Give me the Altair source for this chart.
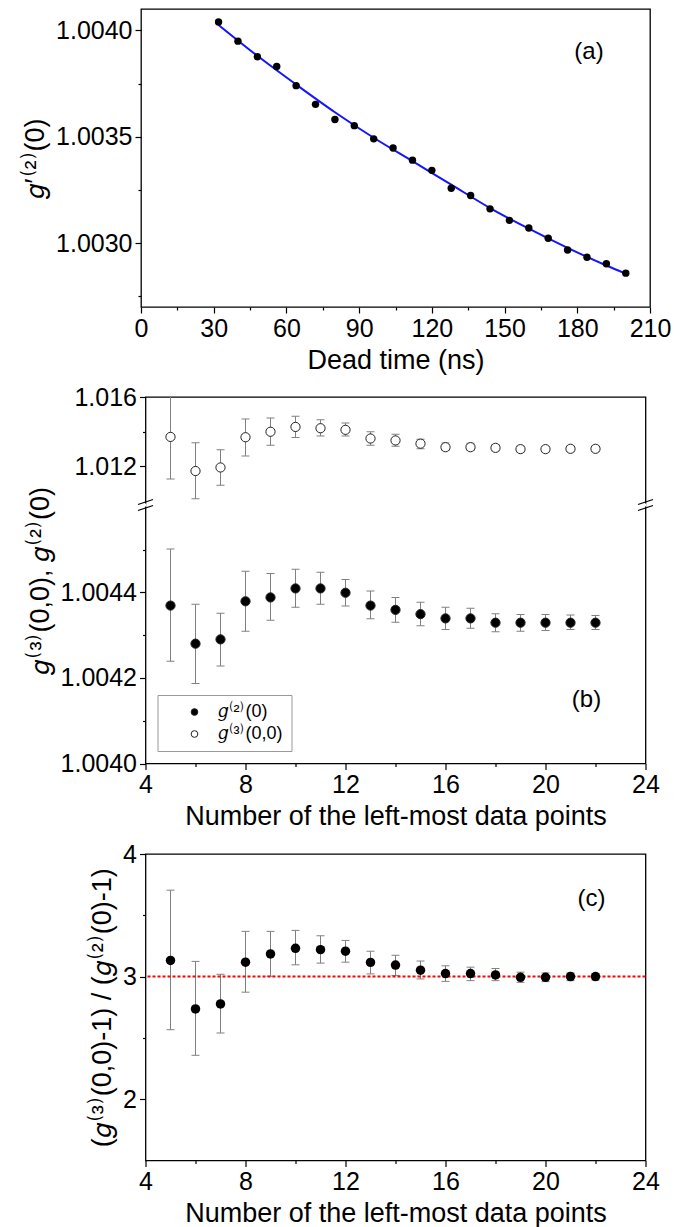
import altair as alt
import pandas as pd

FONT = "Liberation Sans"

# ---------------- panel (a) data ----------------
dead_time = [32, 40, 48, 56, 64, 72, 80, 88, 96, 104, 112, 120, 128, 136, 144,
             152, 160, 168, 176, 184, 192, 200]
g2_prime = [1.004039, 1.003949, 1.003876, 1.003830, 1.003740, 1.003652, 1.003581,
            1.003552, 1.003490, 1.003447, 1.003390, 1.003342, 1.003258, 1.003224,
            1.003161, 1.003107, 1.003071, 1.003023, 1.002968, 1.002934, 1.002903,
            1.002859]
fit_time = [32, 48, 64, 80, 96, 112, 128, 144, 160, 176, 192, 200]
fit_value = [1.004025, 1.003880, 1.003745, 1.003615, 1.003495, 1.003385, 1.003275,
             1.003165, 1.003068, 1.002978, 1.002895, 1.002857]

# ---------------- panel (b) / (c) data ----------------
n_points = [5, 6, 7, 8, 9, 10, 11, 12, 13, 14, 15, 16, 17, 18, 19, 20, 21, 22]
g2_val = [1.004369, 1.004280, 1.004290, 1.004379, 1.004388, 1.004409, 1.004409,
          1.004399, 1.004369, 1.004359, 1.004349, 1.004339, 1.004339, 1.004329,
          1.004329, 1.004329, 1.004329, 1.004329]
g2_lo = [1.004239, 1.004187, 1.004228, 1.004309, 1.004335, 1.004365, 1.004372,
         1.004368, 1.004338, 1.004330, 1.004322, 1.004313, 1.004316, 1.004308,
         1.004309, 1.004311, 1.004313, 1.004313]
g2_hi = [1.004501, 1.004372, 1.004351, 1.004449, 1.004444, 1.004454, 1.004447,
         1.004430, 1.004403, 1.004388, 1.004377, 1.004365, 1.004363, 1.004350,
         1.004348, 1.004348, 1.004347, 1.004346]
g3_val = [1.013693, 1.011721, 1.011926, 1.013674, 1.013991, 1.014270, 1.014195,
          1.014102, 1.013600, 1.013488, 1.013302, 1.013098, 1.013098, 1.013060,
          1.012986, 1.012986, 1.013005, 1.013005]
g3_lo = [1.011256, 1.010121, 1.010902, 1.012595, 1.013209, 1.013656, 1.013749,
         1.013749, 1.013209, 1.013153, 1.013005, 1.012912, 1.012912, 1.012874,
         1.012819, 1.012819, 1.012837, 1.012837]
g3_hi = [1.016130, 1.013358, 1.012949, 1.014735, 1.014791, 1.014884, 1.014679,
         1.014493, 1.013991, 1.013842, 1.013563, 1.013339, 1.013320, 1.013247,
         1.013172, 1.013154, 1.013172, 1.013172]
ratio_val = [3.132, 2.736, 2.777, 3.118, 3.185, 3.231, 3.220, 3.207, 3.116, 3.094,
             3.052, 3.025, 3.025, 3.014, 2.994, 2.994, 3.000, 3.000]
ratio_lo = [2.567, 2.358, 2.540, 2.873, 3.003, 3.096, 3.110, 3.118, 3.022, 3.008,
            2.981, 2.961, 2.967, 2.967, 2.953, 2.959, 2.967, 2.972]
ratio_hi = [3.705, 3.124, 3.019, 3.369, 3.369, 3.377, 3.333, 3.295, 3.207, 3.174,
            3.127, 3.088, 3.077, 3.066, 3.036, 3.030, 3.030, 3.025]

series_labels = ["𝑔⁽²⁾(0)", "𝑔⁽³⁾(0,0)"]
panel_labels = ["(a)", "(b)", "(c)"]
reference_ratio = [3]

# tick positions (major + minor)
ticks_a_x = [0, 15, 30, 45, 60, 75, 90, 105, 120, 135, 150, 165, 180, 195, 210]
ticks_a_y = [1.00275, 1.0030, 1.00325, 1.0035, 1.00375, 1.0040]
ticks_n = [4, 6, 8, 10, 12, 14, 16, 18, 20, 22, 24]
ticks_b_y = [1.0040, 1.0041, 1.0042, 1.0043, 1.0044, 1.0045, 1.012, 1.014, 1.016]
ticks_c_y = [2, 2.5, 3, 3.5, 4]

W_A, H_A = 509, 298
W_B, H_B = 500, 366.5
W_C, H_C = 500, 306.5
SPACING = 90

GREY = "#808080"


def minor_axis(title, values, major_test, label_fmt):
    return alt.Axis(
        title=title,
        values=values,
        labelExpr=f"({major_test}) ? {label_fmt} : ''",
        tickSize={"condition": {"test": f"!({major_test})", "value": 3}, "value": 6},
    )


# ---------------- panel (a) ----------------
x_a = dict(scale=alt.Scale(domain=[0, 210], nice=False, zero=False),
           axis=minor_axis("Dead time (ns)", ticks_a_x, "datum.value % 30 == 0", "datum.label"))
y_a = dict(scale=alt.Scale(domain=[1.0027, 1.0041], nice=False, zero=False),
           axis=minor_axis("𝑔′⁽²⁾(0)", ticks_a_y, "round(datum.value*20000) % 10 == 0",
                           "format(datum.value, '.4f')"))

df_a = pd.DataFrame({"t": dead_time, "g": g2_prime})
df_fit = pd.DataFrame({"t": fit_time, "g": fit_value})

fit_line = alt.Chart(df_fit).mark_line(color="#1414ff", strokeWidth=2, interpolate="monotone").encode(
    x=alt.X("t:Q", **x_a), y=alt.Y("g:Q", **y_a))
pts_a = alt.Chart(df_a).mark_circle(color="black", size=55, opacity=1).encode(
    x=alt.X("t:Q", **x_a), y=alt.Y("g:Q", **y_a))
lab_a = alt.Chart(pd.DataFrame({"lab": [panel_labels[0]]})).mark_text(
    font=FONT, fontSize=24, color="black").encode(text="lab:N", x=alt.value(448), y=alt.value(43))

panel_a = alt.layer(fit_line, pts_a, lab_a).properties(width=W_A, height=H_A)

# ---------------- panel (b) ----------------
x_n_axis = minor_axis("Number of the left-most data points", ticks_n, "datum.value % 4 == 0", "datum.label")
x_n = dict(scale=alt.Scale(domain=[4, 24], nice=False, zero=False), axis=x_n_axis)

BREAK_PX = 108.0
b_major = ("datum.value < 1.005 ? round(datum.value*10000) % 2 == 0 "
           ": round(datum.value*1000) % 4 == 0")
y_b = dict(
    scale=alt.Scale(domain=[1.0040, 1.004604, 1.009756, 1.016],
                    range=[H_B, BREAK_PX, BREAK_PX, 0], nice=False, zero=False),
    axis=minor_axis("𝑔⁽³⁾(0,0), 𝑔⁽²⁾(0)", ticks_b_y, b_major,
                    "(datum.value < 1.005 ? format(datum.value, '.4f') : format(datum.value, '.3f'))"),
)

df_b = pd.DataFrame({
    "n": n_points * 2,
    "val": g2_val + g3_val,
    "lo": g2_lo + g3_lo,
    "hi": g2_hi + g3_hi,
    "series": [series_labels[0]] * len(n_points) + [series_labels[1]] * len(n_points),
})

rule_b = alt.Chart(df_b).mark_rule(color=GREY, strokeWidth=1, clip=True).encode(
    x=alt.X("n:Q", **x_n), y=alt.Y("lo:Q", **y_b), y2="hi:Q")
cap_lo_b = alt.Chart(df_b).mark_tick(orient="horizontal", size=8, thickness=1, color=GREY,
                                     opacity=1, clip=True).encode(
    x=alt.X("n:Q", **x_n), y=alt.Y("lo:Q", **y_b))
cap_hi_b = alt.Chart(df_b).mark_tick(orient="horizontal", size=8, thickness=1, color=GREY,
                                     opacity=1, clip=True).encode(
    x=alt.X("n:Q", **x_n), y=alt.Y("hi:Q", **y_b))
pts_b = alt.Chart(df_b).mark_point(shape="circle", filled=True, stroke="#222222", strokeWidth=1,
                                   opacity=1, size=85).encode(
    x=alt.X("n:Q", **x_n), y=alt.Y("val:Q", **y_b),
    fill=alt.Fill("series:N", scale=alt.Scale(domain=series_labels, range=["black", "white"]),
                  legend=alt.Legend(orient="none", legendX=12, legendY=298, title=None,
                                    strokeColor="#999999", fillColor="white", padding=8,
                                    symbolOffset=20, labelOffset=14, rowPadding=4,
                                    symbolSize=45, symbolStrokeColor="#222222",
                                    symbolStrokeWidth=1, labelFont=FONT, labelFontSize=18,
                                    labelColor="black")),
)

df_break = pd.DataFrame({"xb": [4, 24], "yb": [1.0047, 1.0047]})
gap_path = "M-0.7,-1L0.7,-1L0.7,1L-0.7,1Z"
slash_path = "M-0.94,-0.06L0.94,-0.69M-0.94,0.69L0.94,0.06"
gap_b = alt.Chart(df_break).mark_point(shape=gap_path, filled=True, color="white", opacity=1,
                                       size=9, strokeWidth=0).encode(
    x=alt.X("xb:Q", **x_n), y=alt.Y("yb:Q", **y_b))
slash_b = alt.Chart(df_break).mark_point(shape=slash_path, filled=False, color="black",
                                         opacity=1, size=256, strokeWidth=1.2).encode(
    x=alt.X("xb:Q", **x_n), y=alt.Y("yb:Q", **y_b))
lab_b = alt.Chart(pd.DataFrame({"lab": [panel_labels[1]]})).mark_text(
    font=FONT, fontSize=24, color="black").encode(text="lab:N", x=alt.value(441), y=alt.value(303))

panel_b = alt.layer(rule_b, cap_lo_b, cap_hi_b, pts_b, gap_b, slash_b, lab_b).properties(
    width=W_B, height=H_B)

# ---------------- panel (c) ----------------
y_c = dict(scale=alt.Scale(domain=[1.5, 4], nice=False, zero=False),
           axis=minor_axis("(𝑔⁽³⁾(0,0)-1) / (𝑔⁽²⁾(0)-1)", ticks_c_y, "datum.value % 1 == 0",
                           "format(datum.value, 'd')"))
df_c = pd.DataFrame({"n": n_points, "val": ratio_val, "lo": ratio_lo, "hi": ratio_hi})

rule_c = alt.Chart(df_c).mark_rule(color=GREY, strokeWidth=1).encode(
    x=alt.X("n:Q", **x_n), y=alt.Y("lo:Q", **y_c), y2="hi:Q")
cap_lo_c = alt.Chart(df_c).mark_tick(orient="horizontal", size=8, thickness=1, color=GREY,
                                     opacity=1).encode(x=alt.X("n:Q", **x_n), y=alt.Y("lo:Q", **y_c))
cap_hi_c = alt.Chart(df_c).mark_tick(orient="horizontal", size=8, thickness=1, color=GREY,
                                     opacity=1).encode(x=alt.X("n:Q", **x_n), y=alt.Y("hi:Q", **y_c))
ref_c = alt.Chart(pd.DataFrame({"r": reference_ratio})).mark_rule(
    color="#ff0000", strokeWidth=2, strokeDash=[3, 2]).encode(y=alt.Y("r:Q", **y_c))
pts_c = alt.Chart(df_c).mark_circle(color="black", size=90, opacity=1).encode(
    x=alt.X("n:Q", **x_n), y=alt.Y("val:Q", **y_c))
lab_c = alt.Chart(pd.DataFrame({"lab": [panel_labels[2]]})).mark_text(
    font=FONT, fontSize=24, color="black").encode(text="lab:N", x=alt.value(446), y=alt.value(45))

panel_c = alt.layer(rule_c, cap_lo_c, cap_hi_c, ref_c, pts_c, lab_c).properties(
    width=W_C, height=H_C)

chart = alt.vconcat(panel_a, panel_b, panel_c, spacing=SPACING, bounds="flush", center=True).resolve_scale(
    fill="independent"
).resolve_legend(fill="independent").properties(
    padding={"left": 12, "top": 0, "right": 5, "bottom": 0}
).configure_view(stroke="black", strokeWidth=1.3).configure_axis(
    labelFont=FONT, labelFontSize=25, labelColor="black",
    titleFont=FONT, titleFontSize=27, titleFontWeight="normal", titleColor="black",
    tickColor="black", tickWidth=1.2, domain=False, grid=False,
    labelPadding=3, titlePadding=6, labelFlush=False, labelOverlap=False,
)

chart.save("out.html", embed_options={"renderer": "svg", "actions": False})
